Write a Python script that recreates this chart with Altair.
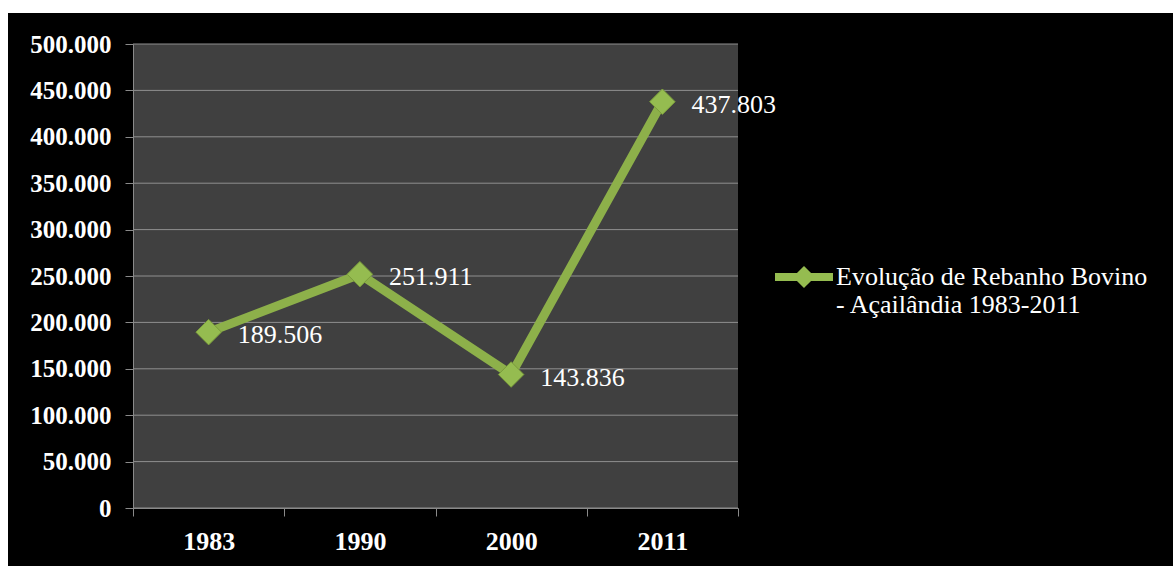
import altair as alt
import pandas as pd

years = ["1983", "1990", "2000", "2011"]
values = [189506, 251911, 143836, 437803]
value_labels = ["189.506", "251.911", "143.836", "437.803"]
series_name = "Evolução de Rebanho Bovino - Açailândia 1983-2011"
y_ticks = [0, 50000, 100000, 150000, 200000, 250000, 300000, 350000, 400000, 450000, 500000]

W, H = 605, 464
GREEN = "#8DB04A"
FONT = "Liberation Serif"

df = pd.DataFrame({"ano": years, "valor": values, "rotulo": value_labels,
                   "serie": [series_name] * len(years)})
grid_df = pd.DataFrame({"valor": y_ticks})
one = pd.DataFrame({"k": [0]})

yscale = alt.Scale(domain=[0, 500000], nice=False)
xscale = alt.Scale(type="band", paddingInner=0, paddingOuter=0)

yaxis = alt.Axis(title=None, values=y_ticks, grid=False, tickSize=8,
                 tickColor="#8a8a8a", domainColor="#8a8a8a",
                 labelColor="white", labelFont=FONT, labelFontSize=25,
                 labelFontWeight="bold", labelPadding=14, zindex=1,
                 labelExpr="replace(format(datum.value, ','), ',', '.')")
xaxis = alt.Axis(title=None, labelAngle=0, tickBand="extent", tickSize=8,
                 tickColor="#8a8a8a", domainColor="#8a8a8a",
                 labelColor="white", labelFont=FONT, labelFontSize=26,
                 labelFontWeight="bold", labelPadding=12, zindex=1)

bg = alt.Chart(one).mark_rect(color="black").encode(
    x=alt.value(-125), x2=alt.value(1040), y=alt.value(-31), y2=alt.value(522))
plotbg = alt.Chart(one).mark_rect(color="#404040").encode(
    x=alt.value(0), x2=alt.value(W), y=alt.value(0), y2=alt.value(H))

grid = alt.Chart(grid_df).mark_rule(color="#8f8f8f", strokeWidth=1).encode(
    y=alt.Y("valor:Q", scale=yscale, axis=yaxis))

xenc = alt.X("ano:N", sort=years, scale=xscale, axis=xaxis)
yenc = alt.Y("valor:Q", scale=yscale, axis=yaxis)

line = alt.Chart(df).mark_line(color=GREEN, strokeWidth=9).encode(x=xenc, y=yenc)

legend_path = ("M-1,-0.14 L1,-0.14 L1,0.14 L-1,0.14 Z "
               "M0,-0.38 L0.38,0 L0,0.38 L-0.38,0 Z")
points = alt.Chart(df).mark_point(shape="diamond", filled=True, size=650, opacity=1,
                                  stroke="#7a9c3c", strokeWidth=1).encode(
    x=xenc, y=yenc,
    color=alt.Color("serie:N", scale=alt.Scale(range=["#95BC50"]),
                    legend=alt.Legend(title=None, orient="none", legendX=642, legendY=204,
                                      symbolType=legend_path, symbolSize=3364,
                                      symbolStrokeWidth=0, labelColor="white",
                                      labelFont=FONT, labelFontSize=26, labelLimit=0,
                                      labelOffset=3, padding=0,
                                      labelExpr="['Evolução de Rebanho Bovino', '- Açailândia 1983-2011']")))

labels = alt.Chart(df).mark_text(align="left", baseline="middle", dx=29, dy=3,
                                 font=FONT, fontSize=26, color="white").encode(
    x=xenc, y=yenc, text="rotulo:N")

chart = alt.layer(bg, plotbg, grid, line, points, labels).properties(
    width=W, height=H, background="white",
    autosize=alt.AutoSizeParams(type="none"),
    padding={"left": 133, "top": 44, "right": 435, "bottom": 58},
).configure_view(stroke=None)

chart.save("out.html", embed_options={"renderer": "svg", "actions": False})
